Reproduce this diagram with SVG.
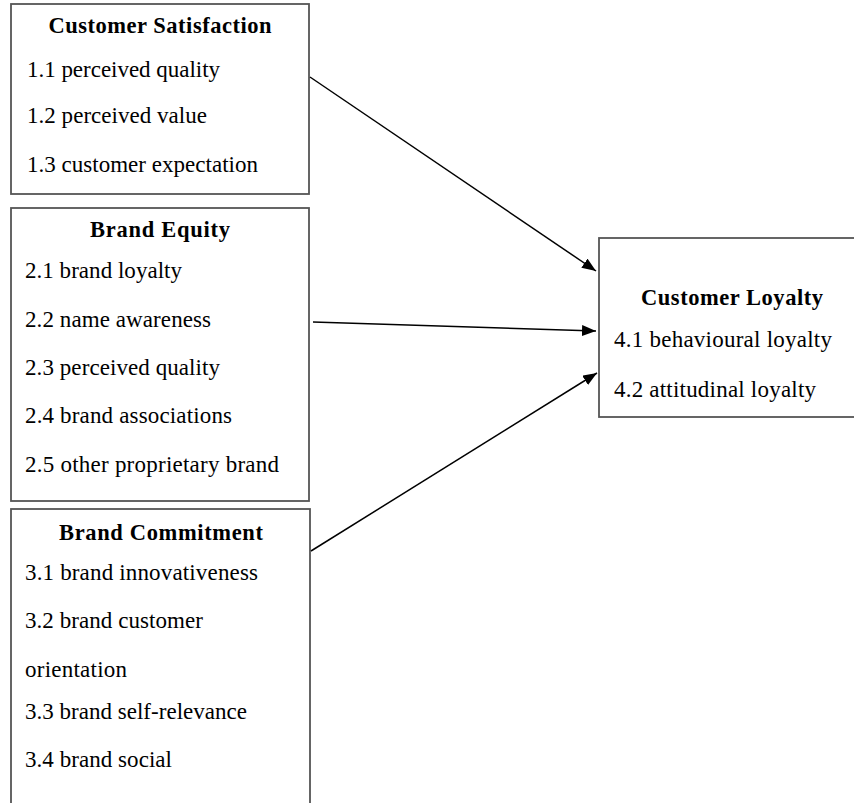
<svg xmlns="http://www.w3.org/2000/svg" width="854" height="803" viewBox="0 0 854 803">
<style>
.box{fill:#fff;stroke:#555;stroke-width:1.8}
.t{font-family:"Liberation Serif","Times New Roman",serif;font-size:23px;fill:#000}
.h{font-family:"Liberation Serif","Times New Roman",serif;font-size:22.5px;font-weight:bold;fill:#000;text-anchor:middle}
.c{stroke:#000;stroke-width:1.5;fill:none;marker-end:url(#ah)}
</style>
<defs>
<marker id="ah" markerUnits="userSpaceOnUse" markerWidth="15" markerHeight="12" refX="14" refY="5.5" orient="auto">
<path d="M0,0 L14,5.5 L0,11 z" fill="#000"/>
</marker>
</defs>
<rect width="854" height="803" fill="#fff"/>
<g id="customer-satisfaction">
<rect class="box" x="11" y="4" width="298" height="190"/>
<text class="h" x="160" y="33" textLength="223" lengthAdjust="spacing">Customer Satisfaction</text>
<text class="t" x="27" y="77" textLength="193" lengthAdjust="spacing">1.1 perceived quality</text>
<text class="t" x="27" y="123" textLength="180" lengthAdjust="spacing">1.2 perceived value</text>
<text class="t" x="27" y="172" textLength="231" lengthAdjust="spacing">1.3 customer expectation</text>
</g>
<g id="brand-equity">
<rect class="box" x="11" y="208" width="298" height="293"/>
<text class="h" x="160" y="237" textLength="140" lengthAdjust="spacing">Brand Equity</text>
<text class="t" x="25" y="278" textLength="157" lengthAdjust="spacing">2.1 brand loyalty</text>
<text class="t" x="25" y="327" textLength="186" lengthAdjust="spacing">2.2 name awareness</text>
<text class="t" x="25" y="375" textLength="195" lengthAdjust="spacing">2.3 perceived quality</text>
<text class="t" x="25" y="423" textLength="207" lengthAdjust="spacing">2.4 brand associations</text>
<text class="t" x="25" y="472" textLength="254" lengthAdjust="spacing">2.5 other proprietary brand</text>
</g>
<g id="brand-commitment">
<rect class="box" x="11" y="509" width="299" height="310"/>
<text class="h" x="161" y="540" textLength="204" lengthAdjust="spacing">Brand Commitment</text>
<text class="t" x="25" y="580" textLength="233" lengthAdjust="spacing">3.1 brand innovativeness</text>
<text class="t" x="25" y="628" textLength="178" lengthAdjust="spacing">3.2 brand customer</text>
<text class="t" x="25" y="677" textLength="102" lengthAdjust="spacing">orientation</text>
<text class="t" x="25" y="719" textLength="222" lengthAdjust="spacing">3.3 brand self-relevance</text>
<text class="t" x="25" y="767" textLength="147" lengthAdjust="spacing">3.4 brand social</text>
</g>
<g id="customer-loyalty">
<rect class="box" x="599" y="238" width="270" height="179"/>
<text class="h" x="732" y="305" textLength="182" lengthAdjust="spacing">Customer Loyalty</text>
<text class="t" x="614" y="347" textLength="218" lengthAdjust="spacing">4.1 behavioural loyalty</text>
<text class="t" x="614" y="397" textLength="202" lengthAdjust="spacing">4.2 attitudinal loyalty</text>
</g>
<g id="connectors">
<line class="c" x1="310" y1="77" x2="596" y2="271"/>
<line class="c" x1="313" y1="322" x2="596" y2="331"/>
<line class="c" x1="311" y1="551" x2="597" y2="373"/>
</g>
</svg>
